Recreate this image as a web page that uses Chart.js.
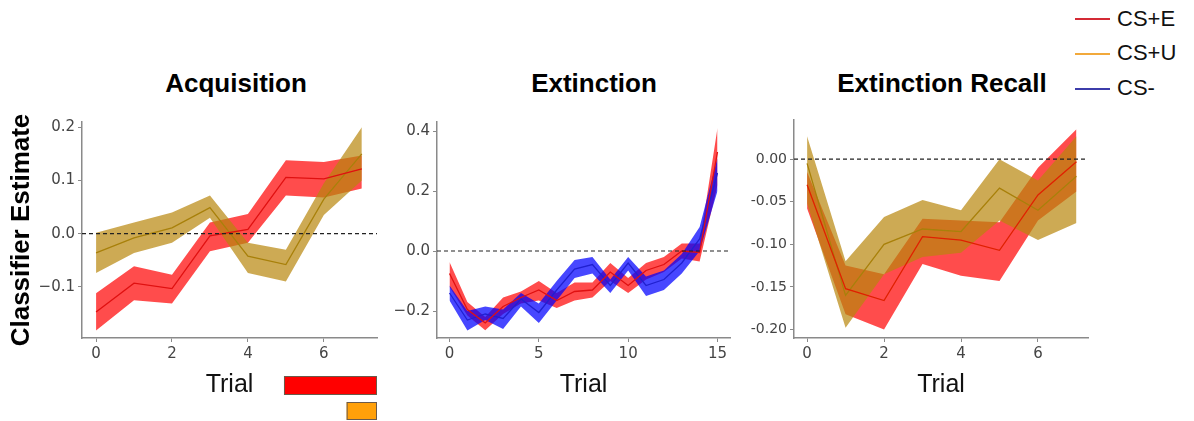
<!DOCTYPE html>
<html>
<head>
<meta charset="utf-8">
<script src="https://cdn.jsdelivr.net/npm/chart.js@4.4.1/dist/chart.umd.min.js"></script>
<style>
  body { margin: 0; background: #fff; }
  #wrap { position: relative; width: 1194px; height: 421px; overflow: hidden; font-family: "Liberation Sans", Arial, sans-serif; }
  canvas { position: absolute; }
  .title { position: absolute; width: 400px; text-align: center; font-size: 26px; font-weight: bold; line-height: 30px; color: #000; }
  .leg-line { position: absolute; left: 1075px; width: 35px; height: 2px; }
  .leg-text { position: absolute; left: 1117px; font-size: 22px; line-height: 26px; color: #111; }
</style>
</head>
<body>
<div id="wrap">
  <div class="title" style="left:36px; top:68px;">Acquisition</div>
  <div class="title" style="left:394px; top:68px;">Extinction</div>
  <div class="title" style="left:742px; top:68px;">Extinction Recall</div>

  <div class="leg-line" style="top:18px; background:#d42a35;"></div>
  <div class="leg-text" style="top:6px;">CS+E</div>
  <div class="leg-line" style="top:53px; background:#f2a93b;"></div>
  <div class="leg-text" style="top:40px;">CS+U</div>
  <div class="leg-line" style="top:88px; background:#3c3caa;"></div>
  <div class="leg-text" style="top:75px;">CS-</div>

  <canvas id="acq" width="390" height="321" style="left:0; top:100px;"></canvas>
  <canvas id="ext" width="350" height="321" style="left:390px; top:100px;"></canvas>
  <canvas id="rec" width="360" height="321" style="left:740px; top:100px;"></canvas>
</div>
<script>
// --- data ---
const acqTrials = [0, 1, 2, 3, 4, 5, 6, 7];
const acqEMean = [-0.147, -0.093, -0.103, -0.004, 0.008, 0.106, 0.103, 0.122];
const acqELow  = [-0.182, -0.125, -0.131, -0.033, -0.017, 0.072, 0.068, 0.085];
const acqEHigh = [-0.112, -0.061, -0.077, 0.021, 0.037, 0.138, 0.135, 0.147];
const acqUMean = [-0.036, -0.008, 0.011, 0.049, -0.042, -0.058, 0.065, 0.15];
const acqULow  = [-0.074, -0.036, -0.017, 0.03, -0.074, -0.09, 0.035, 0.1];
const acqUHigh = [0.002, 0.021, 0.04, 0.072, -0.017, -0.03, 0.095, 0.2];

const extTrials = [0, 1, 2, 3, 4, 5, 6, 7, 8, 9, 10, 11, 12, 13, 14, 15];
const extEMean = [-0.075, -0.195, -0.24, -0.185, -0.155, -0.13, -0.165, -0.135, -0.13, -0.07, -0.115, -0.065, -0.045, 0.0, -0.005, 0.33];
const extELow  = [-0.12, -0.215, -0.264, -0.21, -0.175, -0.165, -0.19, -0.165, -0.155, -0.1, -0.14, -0.095, -0.07, -0.025, -0.035, 0.22];
const extEHigh = [-0.037, -0.17, -0.22, -0.155, -0.135, -0.1, -0.14, -0.105, -0.105, -0.04, -0.09, -0.04, -0.02, 0.025, 0.025, 0.41];
const extMMean = [-0.14, -0.23, -0.21, -0.225, -0.16, -0.205, -0.13, -0.06, -0.045, -0.115, -0.04, -0.115, -0.095, -0.04, 0.04, 0.26];
const extMLow  = [-0.165, -0.265, -0.23, -0.26, -0.185, -0.24, -0.165, -0.09, -0.075, -0.14, -0.065, -0.15, -0.13, -0.075, 0.0, 0.2];
const extMHigh = [-0.115, -0.2, -0.185, -0.195, -0.14, -0.175, -0.1, -0.03, -0.02, -0.095, -0.02, -0.085, -0.065, -0.01, 0.08, 0.31];

const recTrials = [0, 1, 2, 3, 4, 5, 6, 7];
const recEMean = [-0.03, -0.152, -0.166, -0.091, -0.095, -0.107, -0.042, -0.003];
const recELow  = [-0.058, -0.182, -0.2, -0.123, -0.137, -0.143, -0.072, -0.038];
const recEHigh = [-0.015, -0.125, -0.135, -0.07, -0.072, -0.074, -0.01, 0.035];
const recUMean = [-0.005, -0.16, -0.1, -0.082, -0.085, -0.034, -0.06, -0.02];
const recULow  = [-0.052, -0.198, -0.135, -0.115, -0.11, -0.072, -0.095, -0.075];
const recUHigh = [0.027, -0.12, -0.068, -0.048, -0.06, 0.0, -0.025, 0.027];

// tick labels
const acqYTicks = [-0.1, 0, 0.1, 0.2];
const acqXTicks = [0, 2, 4, 6];
const extYTicks = [-0.2, 0, 0.2, 0.4];
const extXTicks = [0, 5, 10, 15];
const recYTicks = [-0.2, -0.15, -0.1, -0.05, 0];
const recXTicks = [0, 2, 4, 6];

// bars under the acquisition panel (trial ranges)
const barFrom = [4.95, 6.6];
const barTo = [7.4, 7.4];
const barColors = ['#ff0000', '#ffa00a'];

const RED_FILL = 'rgba(255, 0, 0, 0.7)';
const GOLD_FILL = 'rgba(184, 134, 11, 0.7)';
const BLUE_FILL = 'rgba(0, 0, 255, 0.72)';

function pts(x, arr) {
  return arr.map((v, i) => ({ x: x[i], y: v }));
}

// upper edge filled down to the lower edge
function band(x, lo, hi, fill, order) {
  return [
    { data: pts(x, hi), fill: '+1', backgroundColor: fill, borderWidth: 0, pointRadius: 0, order: order },
    { data: pts(x, lo), fill: false, borderWidth: 0, pointRadius: 0, order: order },
  ];
}
function meanLine(x, mean, color) {
  return { data: pts(x, mean), fill: false, borderColor: color, borderWidth: 1.3, pointRadius: 0, order: 0 };
}

// dashed line at y = 0
const zeroLine = {
  id: 'zeroLine',
  afterDatasetsDraw(chart) {
    const { ctx, chartArea } = chart;
    const y = chart.scales.y.getPixelForValue(0);
    ctx.save();
    ctx.strokeStyle = '#222';
    ctx.lineWidth = 1.2;
    ctx.setLineDash([4, 3]);
    ctx.beginPath();
    ctx.moveTo(chartArea.left, y);
    ctx.lineTo(chartArea.right, y);
    ctx.stroke();
    ctx.restore();
  }
};

const bottomBars = {
  id: 'bottomBars',
  afterDraw(chart) {
    const { ctx } = chart;
    const xs = chart.scales.x;
    const rows = [[276, 19], [302, 18]];
    ctx.save();
    for (let i = 0; i < barFrom.length; i++) {
      const x0 = xs.getPixelForValue(barFrom[i]);
      const x1 = xs.getPixelForValue(barTo[i]);
      ctx.fillStyle = barColors[i];
      ctx.fillRect(x0, rows[i][0], x1 - x0, rows[i][1]);
      ctx.strokeStyle = '#6b5a4a';
      ctx.lineWidth = 1;
      ctx.strokeRect(x0 + 0.5, rows[i][0] + 0.5, x1 - x0 - 1, rows[i][1] - 1);
    }
    ctx.restore();
  }
};

function makeChart(id, opts) {
  const axisColor = '#8a8a8a';
  return new Chart(document.getElementById(id), {
    type: 'line',
    data: { datasets: opts.datasets },
    options: {
      responsive: false,
      animation: false,
      layout: { padding: { left: 0, right: opts.padRight, top: opts.padTop, bottom: 0 } },
      plugins: { legend: { display: false }, tooltip: { enabled: false } },
      scales: {
        x: {
          type: 'linear',
          min: opts.xMin, max: opts.xMax,
          afterFit: s => { s.height = 83; },
          afterBuildTicks: s => { s.ticks = opts.xTicks.map(v => ({ value: v })); },
          ticks: { color: '#444', font: { family: 'DejaVu Sans', size: 15 }, padding: 3, maxRotation: 0 },
          grid: { drawOnChartArea: false, drawTicks: true, tickLength: 4, color: axisColor },
          border: { color: axisColor, width: 1.5 },
          title: { display: true, text: 'Trial', color: '#111', font: { family: 'Liberation Sans', size: 25 }, padding: { top: 0, bottom: 21 } }
        },
        y: {
          min: opts.yMin, max: opts.yMax,
          afterFit: s => { s.width = opts.yWidth; },
          afterBuildTicks: s => { s.ticks = opts.yTicks.map(v => ({ value: v })); },
          ticks: { color: '#444', font: { family: 'DejaVu Sans', size: opts.tickSize }, padding: 3, callback: opts.fmt },
          grid: { drawOnChartArea: false, drawTicks: true, tickLength: 4, color: axisColor },
          border: { color: axisColor, width: 1.5 },
          title: opts.yTitle ? { display: true, text: opts.yTitle, color: '#000', font: { family: 'Liberation Sans', size: 26, weight: 'bold' }, padding: { top: 6, bottom: 0 } } : { display: false }
        }
      }
    },
    plugins: opts.plugins
  });
}

const fmt1 = v => (v < 0 ? '\u2212' : '') + Math.abs(v).toFixed(1);
const fmt2 = v => (v < 0 ? '-' : '') + Math.abs(v).toFixed(2);

makeChart('acq', {
  datasets: [
    ...band(acqTrials, acqELow, acqEHigh, RED_FILL, 3),
    ...band(acqTrials, acqULow, acqUHigh, GOLD_FILL, 2),
    meanLine(acqTrials, acqEMean, '#e01010'),
    meanLine(acqTrials, acqUMean, '#a8800a'),
  ],
  xMin: -0.37, xMax: 7.4, xTicks: acqXTicks,
  yMin: -0.196, yMax: 0.21, yTicks: acqYTicks,
  yWidth: 82, padRight: 13, padTop: 22, tickSize: 15, fmt: fmt1,
  yTitle: 'Classifier Estimate',
  plugins: [zeroLine, bottomBars]
});

makeChart('ext', {
  datasets: [
    ...band(extTrials, extELow, extEHigh, RED_FILL, 3),
    ...band(extTrials, extMLow, extMHigh, BLUE_FILL, 2),
    meanLine(extTrials, extEMean, '#e01010'),
    meanLine(extTrials, extMMean, '#2020d0'),
  ],
  xMin: -0.7, xMax: 15.7, xTicks: extXTicks,
  yMin: -0.29, yMax: 0.43, yTicks: extYTicks,
  yWidth: 47, padRight: 10, padTop: 22, tickSize: 15, fmt: fmt1,
  plugins: [zeroLine]
});

makeChart('rec', {
  datasets: [
    ...band(recTrials, recELow, recEHigh, RED_FILL, 3),
    ...band(recTrials, recULow, recUHigh, GOLD_FILL, 2),
    meanLine(recTrials, recEMean, '#e02000'),
    meanLine(recTrials, recUMean, '#a8800a'),
  ],
  xMin: -0.34, xMax: 7.3, xTicks: recXTicks,
  yMin: -0.21, yMax: 0.046, yTicks: recYTicks,
  yWidth: 54, padRight: 12, padTop: 20, tickSize: 14, fmt: fmt2,
  plugins: [zeroLine]
});
</script>
</body>
</html>
